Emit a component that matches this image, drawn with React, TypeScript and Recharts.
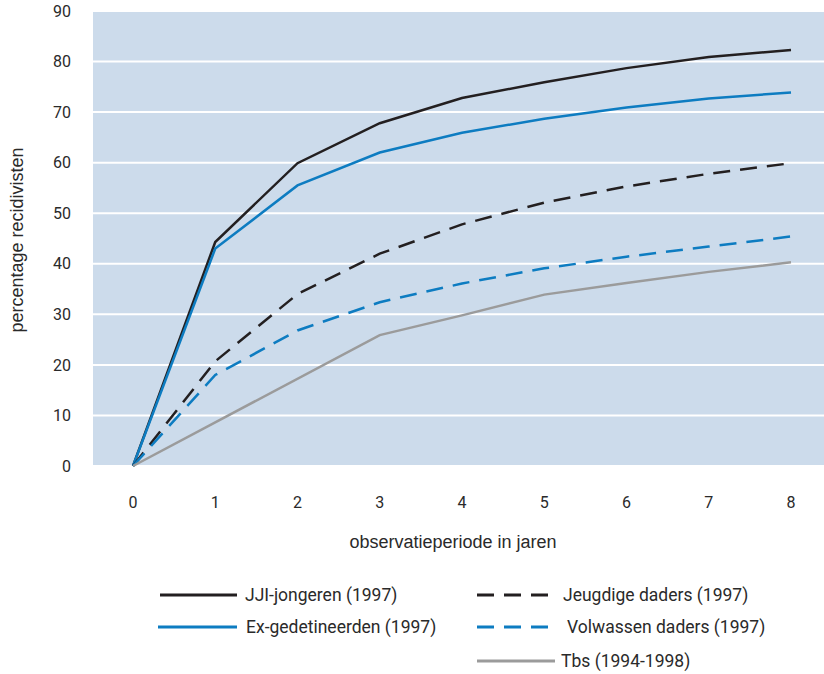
import React from "react";
import { LineChart, Line, XAxis, YAxis, CartesianGrid } from "recharts";

// observatieperiode (jaren)
const years = [0, 1, 2, 3, 4, 5, 6, 7, 8];
const yTicks = [0, 10, 20, 30, 40, 50, 60, 70, 80, 90];

// percentage recidivisten per groep
const jjiJongeren = [0, 44.3, 59.9, 67.8, 72.8, 75.9, 78.7, 80.9, 82.3];
const exGedetineerden = [0, 43.0, 55.5, 62.0, 65.9, 68.7, 70.9, 72.7, 73.9];
const jeugdigeDaders = [0, 20.7, 34.0, 42.0, 47.8, 52.1, 55.3, 57.8, 59.9];
const volwassenDaders = [0, 18.0, 26.8, 32.4, 36.1, 39.1, 41.4, 43.4, 45.4];
const tbs = [0, null, null, 25.9, 29.8, 33.9, 36.2, 38.4, 40.3];

const BLACK = "#231f20";
const BLUE = "#0d7cc1";
const GRAY = "#9b9b9b";
const DASH = "17 10";

const series = [
  { key: "jji", name: "JJI-jongeren (1997)", values: jjiJongeren, color: BLACK, dash: undefined },
  { key: "ex", name: "Ex-gedetineerden (1997)", values: exGedetineerden, color: BLUE, dash: undefined },
  { key: "jeugd", name: "Jeugdige daders (1997)", values: jeugdigeDaders, color: BLACK, dash: DASH },
  { key: "volw", name: "Volwassen daders (1997)", values: volwassenDaders, color: BLUE, dash: DASH },
  { key: "tbs", name: "Tbs (1994-1998)", values: tbs, color: GRAY, dash: undefined },
];

const data = years.map((year, i) => {
  const row: Record<string, number | null> = { year };
  series.forEach((s) => {
    row[s.key] = s.values[i];
  });
  return row;
});

// legend layout: [lineStart, lineEnd, textX, rowY]
const legendPos: Record<string, [number, number, number, number]> = {
  jji: [160, 237, 245, 595],
  ex: [158, 237, 246, 627],
  jeugd: [477, 548, 563, 595],
  volw: [477, 548, 567, 627],
  tbs: [477, 555, 561, 661],
};

const tickStyle = { fontFamily: "Roboto, sans-serif", fontSize: 16, fill: "#2a2a2a" };
const titleFont = "'Liberation Sans', Arial, sans-serif";

export default function App() {
  return (
    <div style={{ position: "absolute", left: 0, top: 0, width: 824, height: 674, background: "#fff" }}>
      <LineChart
        width={824}
        height={674}
        data={data}
        margin={{ top: 11, right: 0, left: 0, bottom: 158 }}
      >
        <CartesianGrid
          vertical={false}
          fill="#ccdbeb"
          fillOpacity={1}
          stroke="#ffffff"
          strokeWidth={2}
        />
        <XAxis
          dataKey="year"
          type="category"
          padding={{ left: 40, right: 33 }}
          axisLine={false}
          tickLine={false}
          tickSize={0}
          tickMargin={31}
          height={50}
          tick={tickStyle}
          interval={0}
        />
        <YAxis
          domain={[0, 90]}
          ticks={yTicks}
          width={93}
          axisLine={false}
          tickLine={false}
          tickSize={0}
          tickMargin={22}
          tick={tickStyle}
          interval={0}
        />
        {series.map((s) => (
          <Line
            key={s.key}
            dataKey={s.key}
            name={s.name}
            type="linear"
            stroke={s.color}
            strokeWidth={2.5}
            strokeDasharray={s.dash}
            dot={false}
            activeDot={false}
            connectNulls
            isAnimationActive={false}
          />
        ))}
      </LineChart>

      <svg
        width={824}
        height={674}
        style={{ position: "absolute", left: 0, top: 0, pointerEvents: "none" }}
      >
        <text
          x={453}
          y={548}
          textAnchor="middle"
          fontFamily={titleFont}
          fontSize={18}
          fill="#2a2a2a"
        >
          observatieperiode in jaren
        </text>
        <text
          transform="translate(23 240) rotate(-90)"
          textAnchor="middle"
          fontFamily={titleFont}
          fontSize={18}
          fill="#2a2a2a"
        >
          percentage recidivisten
        </text>
        {series.map((s) => {
          const [x1, x2, tx, y] = legendPos[s.key];
          return (
            <g key={s.key}>
              <line
                x1={x1}
                x2={x2}
                y1={y}
                y2={y}
                stroke={s.color}
                strokeWidth={3}
                strokeDasharray={s.dash ? "17 10" : undefined}
              />
              <text
                x={tx}
                y={y + 6}
                fontFamily="Roboto, sans-serif"
                fontSize={17.5}
                fill="#2a2a2a"
              >
                {s.name}
              </text>
            </g>
          );
        })}
      </svg>
    </div>
  );
}
